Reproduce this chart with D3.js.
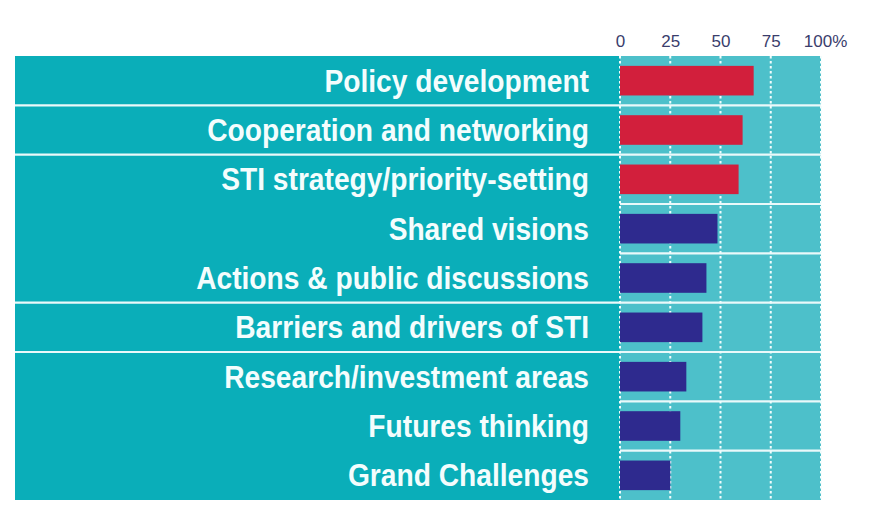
<!DOCTYPE html>
<html>
<head>
<meta charset="utf-8">
<script src="https://cdn.jsdelivr.net/npm/d3@7"></script>
<style>
  html, body { margin: 0; padding: 0; background: #ffffff; }
  svg { display: block; }
</style>
</head>
<body>
<svg id="chart" width="883" height="521"></svg>
<script>
// ---- data ----
const categories = [
  "Policy development",
  "Cooperation and networking",
  "STI strategy/priority-setting",
  "Shared visions",
  "Actions & public discussions",
  "Barriers and drivers of STI",
  "Research/investment areas",
  "Futures thinking",
  "Grand Challenges"
];
const values = [66.5, 61, 59, 48.5, 43, 41, 33, 30, 25];
const groups = ["top", "top", "top", "other", "other", "other", "other", "other", "other"];
const tickValues = [0, 25, 50, 75, 100];
const tickLabels = ["0", "25", "50", "75", "100%"];
// rows after which the label panel shows a divider
const labelDividersAfter = ["Policy development", "Cooperation and networking",
  "Actions & public discussions", "Barriers and drivers of STI"];

// ---- layout ----
const svg = d3.select("#chart");
const panelLeft = 15, plotLeft = 620, plotRight = 821, plotTop = 56, plotBottom = 500;
const labelRight = 589;

const x = d3.scaleLinear().domain([0, 100]).range([plotLeft, plotRight]);
const y = d3.scaleBand().domain(categories).range([plotTop, plotBottom]).padding(0);
const color = d3.scaleOrdinal().domain(["top", "other"]).range(["#D21F3C", "#2E2A8E"]);

// label panel
svg.append("rect").attr("x", panelLeft).attr("y", plotTop)
  .attr("width", plotLeft - panelLeft).attr("height", plotBottom - plotTop)
  .attr("fill", "#0AAEB9");
// plot panel
svg.append("rect").attr("x", plotLeft).attr("y", plotTop)
  .attr("width", plotRight - plotLeft).attr("height", plotBottom - plotTop)
  .attr("fill", "#4DC0CA");

// label dividers
svg.append("g").selectAll("line").data(labelDividersAfter).join("line")
  .attr("x1", panelLeft).attr("x2", plotLeft)
  .attr("y1", d => y(d) + y.bandwidth()).attr("y2", d => y(d) + y.bandwidth())
  .attr("stroke", "#EAF9FA").attr("stroke-width", 2.2);

// plot row dividers
svg.append("g").selectAll("line").data(categories.slice(0, -1)).join("line")
  .attr("x1", plotLeft).attr("x2", plotRight)
  .attr("y1", d => y(d) + y.bandwidth()).attr("y2", d => y(d) + y.bandwidth())
  .attr("stroke", "#EAF9FA").attr("stroke-width", 2.2);

// dashed gridlines
svg.append("g").selectAll("line").data(tickValues).join("line")
  .attr("x1", d => x(d)).attr("x2", d => x(d))
  .attr("y1", plotTop).attr("y2", plotBottom)
  .attr("stroke", "#F2FCFC").attr("stroke-width", 2)
  .attr("stroke-dasharray", "2.5,2.5");

// bars
const barH = y.bandwidth() * 0.6;
svg.append("g").selectAll("rect").data(categories).join("rect")
  .attr("x", x(0))
  .attr("y", d => y(d) + (y.bandwidth() - barH) / 2)
  .attr("width", (d, i) => x(values[i]) - x(0))
  .attr("height", barH)
  .attr("fill", (d, i) => color(groups[i]));

// category labels
const labels = svg.append("g").selectAll("text").data(categories).join("text")
  .attr("x", 0).attr("y", 0)
  .attr("text-anchor", "end")
  .attr("fill", "#F4FDFD")
  .attr("font-family", "'Liberation Sans Narrow', 'Liberation Sans', Arial, sans-serif")
  .attr("font-weight", "bold")
  .attr("font-size", 31)
  .text(d => d);
// fit the labels to the reference widths
let refW = 0;
labels.each(function(d) { if (d === "Cooperation and networking") refW = this.getComputedTextLength(); });
const k = refW > 0 ? 382 / refW : 1;
labels.attr("transform", d => `translate(${labelRight},${y(d) + y.bandwidth() / 2 + 11}) scale(${k},1)`);

// top axis
const axis = d3.axisTop(x).tickValues(tickValues)
  .tickFormat((d, i) => tickLabels[i]).tickSize(0).tickPadding(0);
const ax = svg.append("g").attr("transform", `translate(0,${plotTop - 9})`).call(axis);
ax.select(".domain").remove();
ax.selectAll("text")
  .attr("fill", "#3A3D6C")
  .attr("font-family", "'Liberation Sans Narrow', 'Liberation Sans', Arial, sans-serif")
  .attr("font-size", 17)
  .attr("dx", (d, i) => i === tickValues.length - 1 ? 4 : 0);
</script>
</body>
</html>
